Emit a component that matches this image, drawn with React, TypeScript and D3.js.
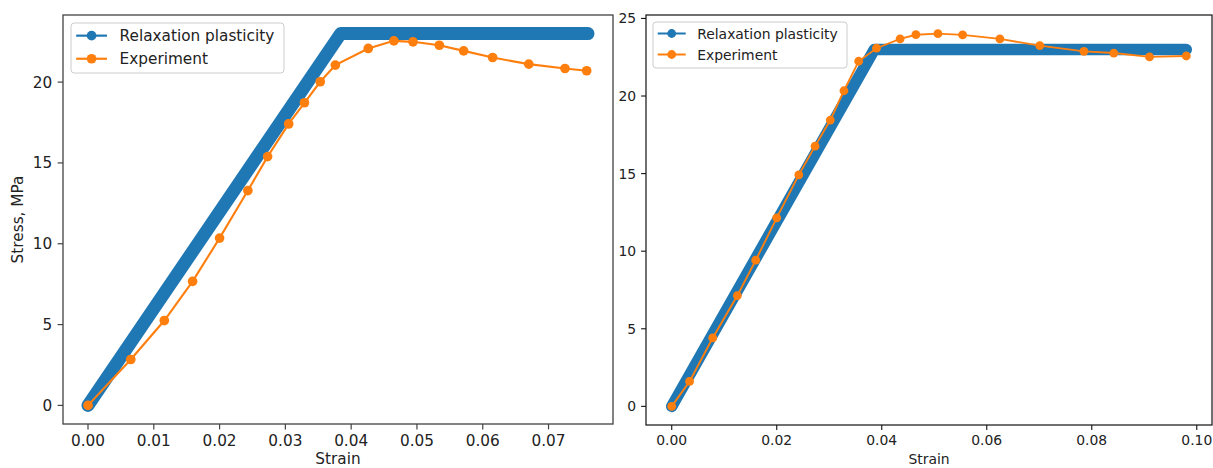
import React from "react";
import * as d3 from "d3";

// ---------- data ----------
const seriesNames = ["Relaxation plasticity", "Experiment"];

// Left panel
const leftModelStrain = [0, 0.0384, 0.076];
const leftModelStress = [0, 23, 23];
const leftExpStrain = [0, 0.0065, 0.0116, 0.0159, 0.02, 0.0243, 0.0273, 0.0305, 0.0329, 0.0353, 0.0376, 0.0426, 0.0465, 0.0494, 0.0534, 0.0571, 0.0615, 0.067, 0.0725, 0.0758];
const leftExpStress = [0, 2.84, 5.25, 7.67, 10.35, 13.29, 15.39, 17.41, 18.72, 20.02, 21.05, 22.08, 22.55, 22.49, 22.28, 21.93, 21.52, 21.11, 20.84, 20.7];
const leftXTicks = [0, 0.01, 0.02, 0.03, 0.04, 0.05, 0.06, 0.07];
const leftYTicks = [0, 5, 10, 15, 20];

// Right panel
const rightModelStrain = [0, 0.0386, 0.098];
const rightModelStress = [0, 23, 23];
const rightExpStrain = [0, 0.0034, 0.0078, 0.0125, 0.016, 0.02, 0.0242, 0.0273, 0.0302, 0.0328, 0.0356, 0.039, 0.0435, 0.0465, 0.0507, 0.0554, 0.0625, 0.0701, 0.0785, 0.0842, 0.091, 0.098];
const rightExpStress = [0, 1.61, 4.41, 7.14, 9.42, 12.15, 14.92, 16.77, 18.45, 20.34, 22.24, 23.08, 23.68, 23.95, 24.02, 23.94, 23.68, 23.25, 22.88, 22.77, 22.52, 22.58];
const rightXTicks = [0, 0.02, 0.04, 0.06, 0.08, 0.1];
const rightYTicks = [0, 5, 10, 15, 20, 25];

const xLabel = "Strain";
const yLabel = "Stress, MPa";

const BLUE = "#1f77b4";
const ORANGE = "#ff7f0e";
const FONT = "'DejaVu Sans', Verdana, sans-serif";

type PanelProps = {
  modelX: number[];
  modelY: number[];
  expX: number[];
  expY: number[];
  xTicks: number[];
  yTicks: number[];
  xFmt: (v: number) => string;
  box: { x0: number; x1: number; y0: number; y1: number };
  s: number; // scale factor
  band: number;
  frameColor: string;
  showYLabel: boolean;
  legend: { x: number; y: number; w: number; h: number };
  xLabelY: number;
};

function padded(vals: number[]): [number, number] {
  const [mn, mx] = d3.extent(vals) as [number, number];
  const m = (mx - mn) * 0.05;
  return [mn - m, mx + m];
}

function Panel(p: PanelProps) {
  const { box, s } = p;
  const x = d3.scaleLinear().domain(padded([...p.modelX, ...p.expX])).range([box.x0, box.x1]);
  const y = d3.scaleLinear().domain(padded([...p.modelY, ...p.expY])).range([box.y1, box.y0]);
  const line = d3.line<[number, number]>().x((d) => x(d[0])).y((d) => y(d[1]));
  const model: [number, number][] = p.modelX.map((v, i) => [v, p.modelY[i]]);
  const exp: [number, number][] = p.expX.map((v, i) => [v, p.expY[i]]);
  const fs = 13.9 * s;
  const tickLen = 4.9 * s;
  const pad = 4.9 * s;
  const lfs = 13.9 * s;
  const lg = p.legend;
  const row1 = lg.y + 11.5 * s;
  const row2 = row1 + 21 * s;
  const hx0 = lg.x + 4.7 * s;
  const hx1 = hx0 + 28 * s;
  return (
    <g>
      <defs>
        <clipPath id={`clip${box.x0}`}>
          <rect x={box.x0} y={box.y0} width={box.x1 - box.x0} height={box.y1 - box.y0} />
        </clipPath>
      </defs>
      <g clipPath={`url(#clip${box.x0})`}>
        <path d={line(model) || ""} fill="none" stroke={BLUE} strokeWidth={p.band} strokeLinecap="round" strokeLinejoin="round" />
        <path d={line(exp) || ""} fill="none" stroke={ORANGE} strokeWidth={1.9 * s} />
        {exp.map((d, i) => (
          <circle key={i} cx={x(d[0])} cy={y(d[1])} r={4.4 * s} fill={ORANGE} />
        ))}
      </g>
      <rect x={box.x0} y={box.y0} width={box.x1 - box.x0} height={box.y1 - box.y0} fill="none" stroke={p.frameColor} strokeWidth={1.2 * s} />
      {p.xTicks.map((t) => (
        <g key={"x" + t}>
          <line x1={x(t)} x2={x(t)} y1={box.y1} y2={box.y1 + tickLen} stroke={p.frameColor} strokeWidth={1.1 * s} />
          <text x={x(t)} y={box.y1 + tickLen + pad + fs * 0.76} fontSize={fs} fontFamily={FONT} textAnchor="middle" fill="#222">
            {p.xFmt(t)}
          </text>
        </g>
      ))}
      {p.yTicks.map((t) => (
        <g key={"y" + t}>
          <line x1={box.x0 - tickLen} x2={box.x0} y1={y(t)} y2={y(t)} stroke={p.frameColor} strokeWidth={1.1 * s} />
          <text x={box.x0 - tickLen - pad} y={y(t)} dy="0.36em" fontSize={fs} fontFamily={FONT} textAnchor="end" fill="#222">
            {d3.format("d")(t)}
          </text>
        </g>
      ))}
      <text x={(box.x0 + box.x1) / 2} y={p.xLabelY} fontSize={fs} fontFamily={FONT} textAnchor="middle" fill="#222">
        {xLabel}
      </text>
      {p.showYLabel && (
        <text transform={`translate(${17},${(box.y0 + box.y1) / 2}) rotate(-90)`} dy="0.36em" fontSize={fs} fontFamily={FONT} textAnchor="middle" fill="#222">
          {yLabel}
        </text>
      )}
      {/* legend */}
      <rect x={lg.x} y={lg.y} width={lg.w} height={lg.h} rx={3 * s} fill="white" fillOpacity={0.85} stroke="#cccccc" strokeWidth={1} />
      <line x1={hx0} x2={hx1} y1={row1} y2={row1} stroke={BLUE} strokeWidth={2 * s} />
      <circle cx={(hx0 + hx1) / 2} cy={row1} r={4.4 * s} fill={BLUE} />
      <text x={hx1 + 11.5 * s} y={row1} dy="0.36em" fontSize={lfs} fontFamily={FONT} fill="#222">
        {seriesNames[0]}
      </text>
      <line x1={hx0} x2={hx1} y1={row2} y2={row2} stroke={ORANGE} strokeWidth={2 * s} />
      <circle cx={(hx0 + hx1) / 2} cy={row2} r={4.4 * s} fill={ORANGE} />
      <text x={hx1 + 11.5 * s} y={row2} dy="0.36em" fontSize={lfs} fontFamily={FONT} fill="#222">
        {seriesNames[1]}
      </text>
    </g>
  );
}

export default function App() {
  return (
    <svg width={1213} height={468} style={{ position: "absolute", left: 0, top: 0, display: "block", background: "white" }}>
      <rect x={0} y={0} width={1213} height={468} fill="white" />
      <Panel
        modelX={leftModelStrain}
        modelY={leftModelStress}
        expX={leftExpStrain}
        expY={leftExpStress}
        xTicks={leftXTicks}
        yTicks={leftYTicks}
        xFmt={d3.format(".2f")}
        box={{ x0: 63, x1: 613, y0: 15, y1: 424 }}
        s={1.1}
        band={13}
        frameColor="#444"
        showYLabel={true}
        legend={{ x: 71, y: 23, w: 213, h: 50 }}
        xLabelY={464}
      />
      <Panel
        modelX={rightModelStrain}
        modelY={rightModelStress}
        expX={rightExpStrain}
        expY={rightExpStress}
        xTicks={rightXTicks}
        yTicks={rightYTicks}
        xFmt={d3.format(".2f")}
        box={{ x0: 646, x1: 1212, y0: 15, y1: 425 }}
        s={1.0}
        band={11.5}
        frameColor="#111"
        showYLabel={false}
        legend={{ x: 653, y: 22, w: 194, h: 46 }}
        xLabelY={464}
      />
    </svg>
  );
}
